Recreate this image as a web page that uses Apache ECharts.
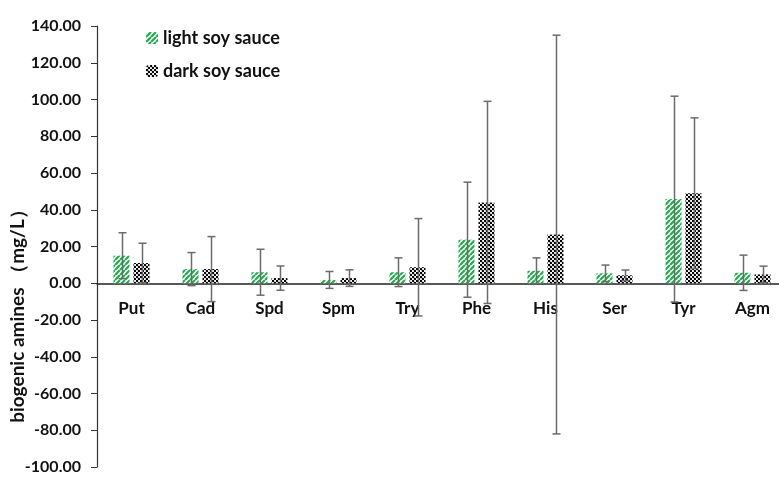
<!DOCTYPE html>
<html>
<head>
<meta charset="utf-8">
<script src="https://cdn.jsdelivr.net/npm/echarts@6/dist/echarts.min.js"></script>
<style>
    html, body { margin: 0; padding: 0; background: #fff; }
    #main { width: 779px; height: 477px; }
</style>
</head>
<body>
<div id="main"></div>
<script>
// 样品类别
var categories = ['Put', 'Cad', 'Spd', 'Spm', 'Try', 'Phe', 'His', 'Ser', 'Tyr', 'Agm'];
var seriesNames = ['light soy sauce', 'dark soy sauce'];
// 平均值 mg/L
var lightMean = [15, 7.7, 6, 1.8, 6, 23.7, 6.8, 5.4, 45.8, 5.7];
var darkMean = [11, 7.7, 2.8, 2.8, 8.7, 44, 26.5, 4.3, 49, 4.8];
// 标准偏差
var lightErr = [12.5, 9, 12.5, 4.6, 7.8, 31.3, 7, 4.5, 56, 9.6];
var darkErr = [10.8, 17.7, 6.6, 4.5, 26.5, 55, 108.5, 2.9, 41, 4.5];
var yTicks = { min: -100, max: 140, interval: 20 };

var gridTop = 26;
var gridBottom = 10;
var chartHeight = 477;
var barWidth = 16;
var barOffset = 10;

function makeStripe() {
    var c = document.createElement('canvas');
    c.width = 5; c.height = 5;
    var ctx = c.getContext('2d');
    ctx.fillStyle = '#fff';
    ctx.fillRect(0, 0, 5, 5);
    ctx.strokeStyle = '#1fae4c';
    ctx.lineWidth = 2.2;
    ctx.beginPath();
    for (var k = -5; k <= 10; k += 5) {
        ctx.moveTo(k, 5);
        ctx.lineTo(k + 5, 0);
    }
    ctx.stroke();
    return c;
}

function makeChecker() {
    var c = document.createElement('canvas');
    c.width = 4; c.height = 4;
    var ctx = c.getContext('2d');
    ctx.fillStyle = '#fff';
    ctx.fillRect(0, 0, 4, 4);
    ctx.fillStyle = '#000';
    ctx.beginPath();
    ctx.arc(1, 1, 1.25, 0, Math.PI * 2);
    ctx.arc(3, 3, 1.25, 0, Math.PI * 2);
    ctx.fill();
    return c;
}

function errData(mean, err) {
    return mean.map(function (m, i) {
        return [i, m - err[i], m + err[i]];
    });
}

function errRender(offset) {
    return function (params, api) {
        var lo = api.coord([api.value(0), api.value(1)]);
        var hi = api.coord([api.value(0), api.value(2)]);
        var x = Math.round(lo[0] + offset) + 0.5;
        var cap = 4;
        var style = { stroke: '#6b6b6b', lineWidth: 1.5 };
        return {
            type: 'group',
            children: [
                { type: 'line', shape: { x1: x, y1: hi[1], x2: x, y2: lo[1] }, style: style },
                { type: 'line', shape: { x1: x - cap, y1: hi[1], x2: x + cap, y2: hi[1] }, style: style },
                { type: 'line', shape: { x1: x - cap, y1: lo[1], x2: x + cap, y2: lo[1] }, style: style }
            ]
        };
    };
}

// x轴放在0刻度处
var plotHeight = chartHeight - gridTop - gridBottom;
var zeroOffset = -plotHeight * (0 - yTicks.min) / (yTicks.max - yTicks.min);

var stripe = makeStripe();
var checker = makeChecker();
var fontFamily = 'Lato, "Open Sans", sans-serif';

var myChart = echarts.init(document.getElementById('main'));
var option = {
    animation: false,
    textStyle: { fontFamily: fontFamily },
    grid: { left: 97, right: -8, top: gridTop, bottom: gridBottom, containLabel: false, outerBoundsMode: 'none' },
    legend: {
        orient: 'vertical',
        left: 141,
        top: 24,
        itemWidth: 12,
        itemHeight: 12,
        itemGap: 15,
        textStyle: { fontSize: 18, fontWeight: 'bold', color: '#111', fontFamily: fontFamily },
        data: seriesNames
    },
    xAxis: {
        type: 'category',
        data: categories,
        position: 'bottom',
        offset: zeroOffset,
        axisLine: { onZero: false, lineStyle: { color: '#222', width: 1.5 } },
        axisTick: { show: false },
        axisLabel: { margin: 17, fontSize: 17, fontWeight: 'bold', color: '#111' }
    },
    yAxis: {
        type: 'value',
        min: yTicks.min,
        max: yTicks.max,
        interval: yTicks.interval,
        name: 'biogenic amines （mg/L）',
        nameLocation: 'middle',
        nameGap: 70,
        nameMoveOverlap: false,
        nameTextStyle: { fontSize: 19, fontWeight: 'bold', color: '#111', padding: [0, 130, 0, 0] },
        splitLine: { show: false },
        axisLine: { show: true, lineStyle: { color: '#333', width: 1.2 } },
        axisTick: { show: true, length: 6, lineStyle: { color: '#333' } },
        axisLabel: {
            margin: 16,
            fontSize: 16,
            fontWeight: 'bold',
            color: '#111',
            formatter: function (v) { return v.toFixed(2); }
        }
    },
    series: [
        {
            name: seriesNames[0],
            type: 'bar',
            barWidth: barWidth,
            barGap: '25%',
            data: lightMean,
            itemStyle: { color: { image: stripe, repeat: 'repeat' } }
        },
        {
            name: seriesNames[1],
            type: 'bar',
            barWidth: barWidth,
            data: darkMean,
            itemStyle: { color: { image: checker, repeat: 'repeat' } }
        },
        {
            type: 'custom',
            renderItem: errRender(-barOffset),
            data: errData(lightMean, lightErr),
            z: 10,
            silent: true
        },
        {
            type: 'custom',
            renderItem: errRender(barOffset),
            data: errData(darkMean, darkErr),
            z: 10,
            silent: true
        }
    ]
};
myChart.setOption(option, true);
</script>
</body>
</html>
